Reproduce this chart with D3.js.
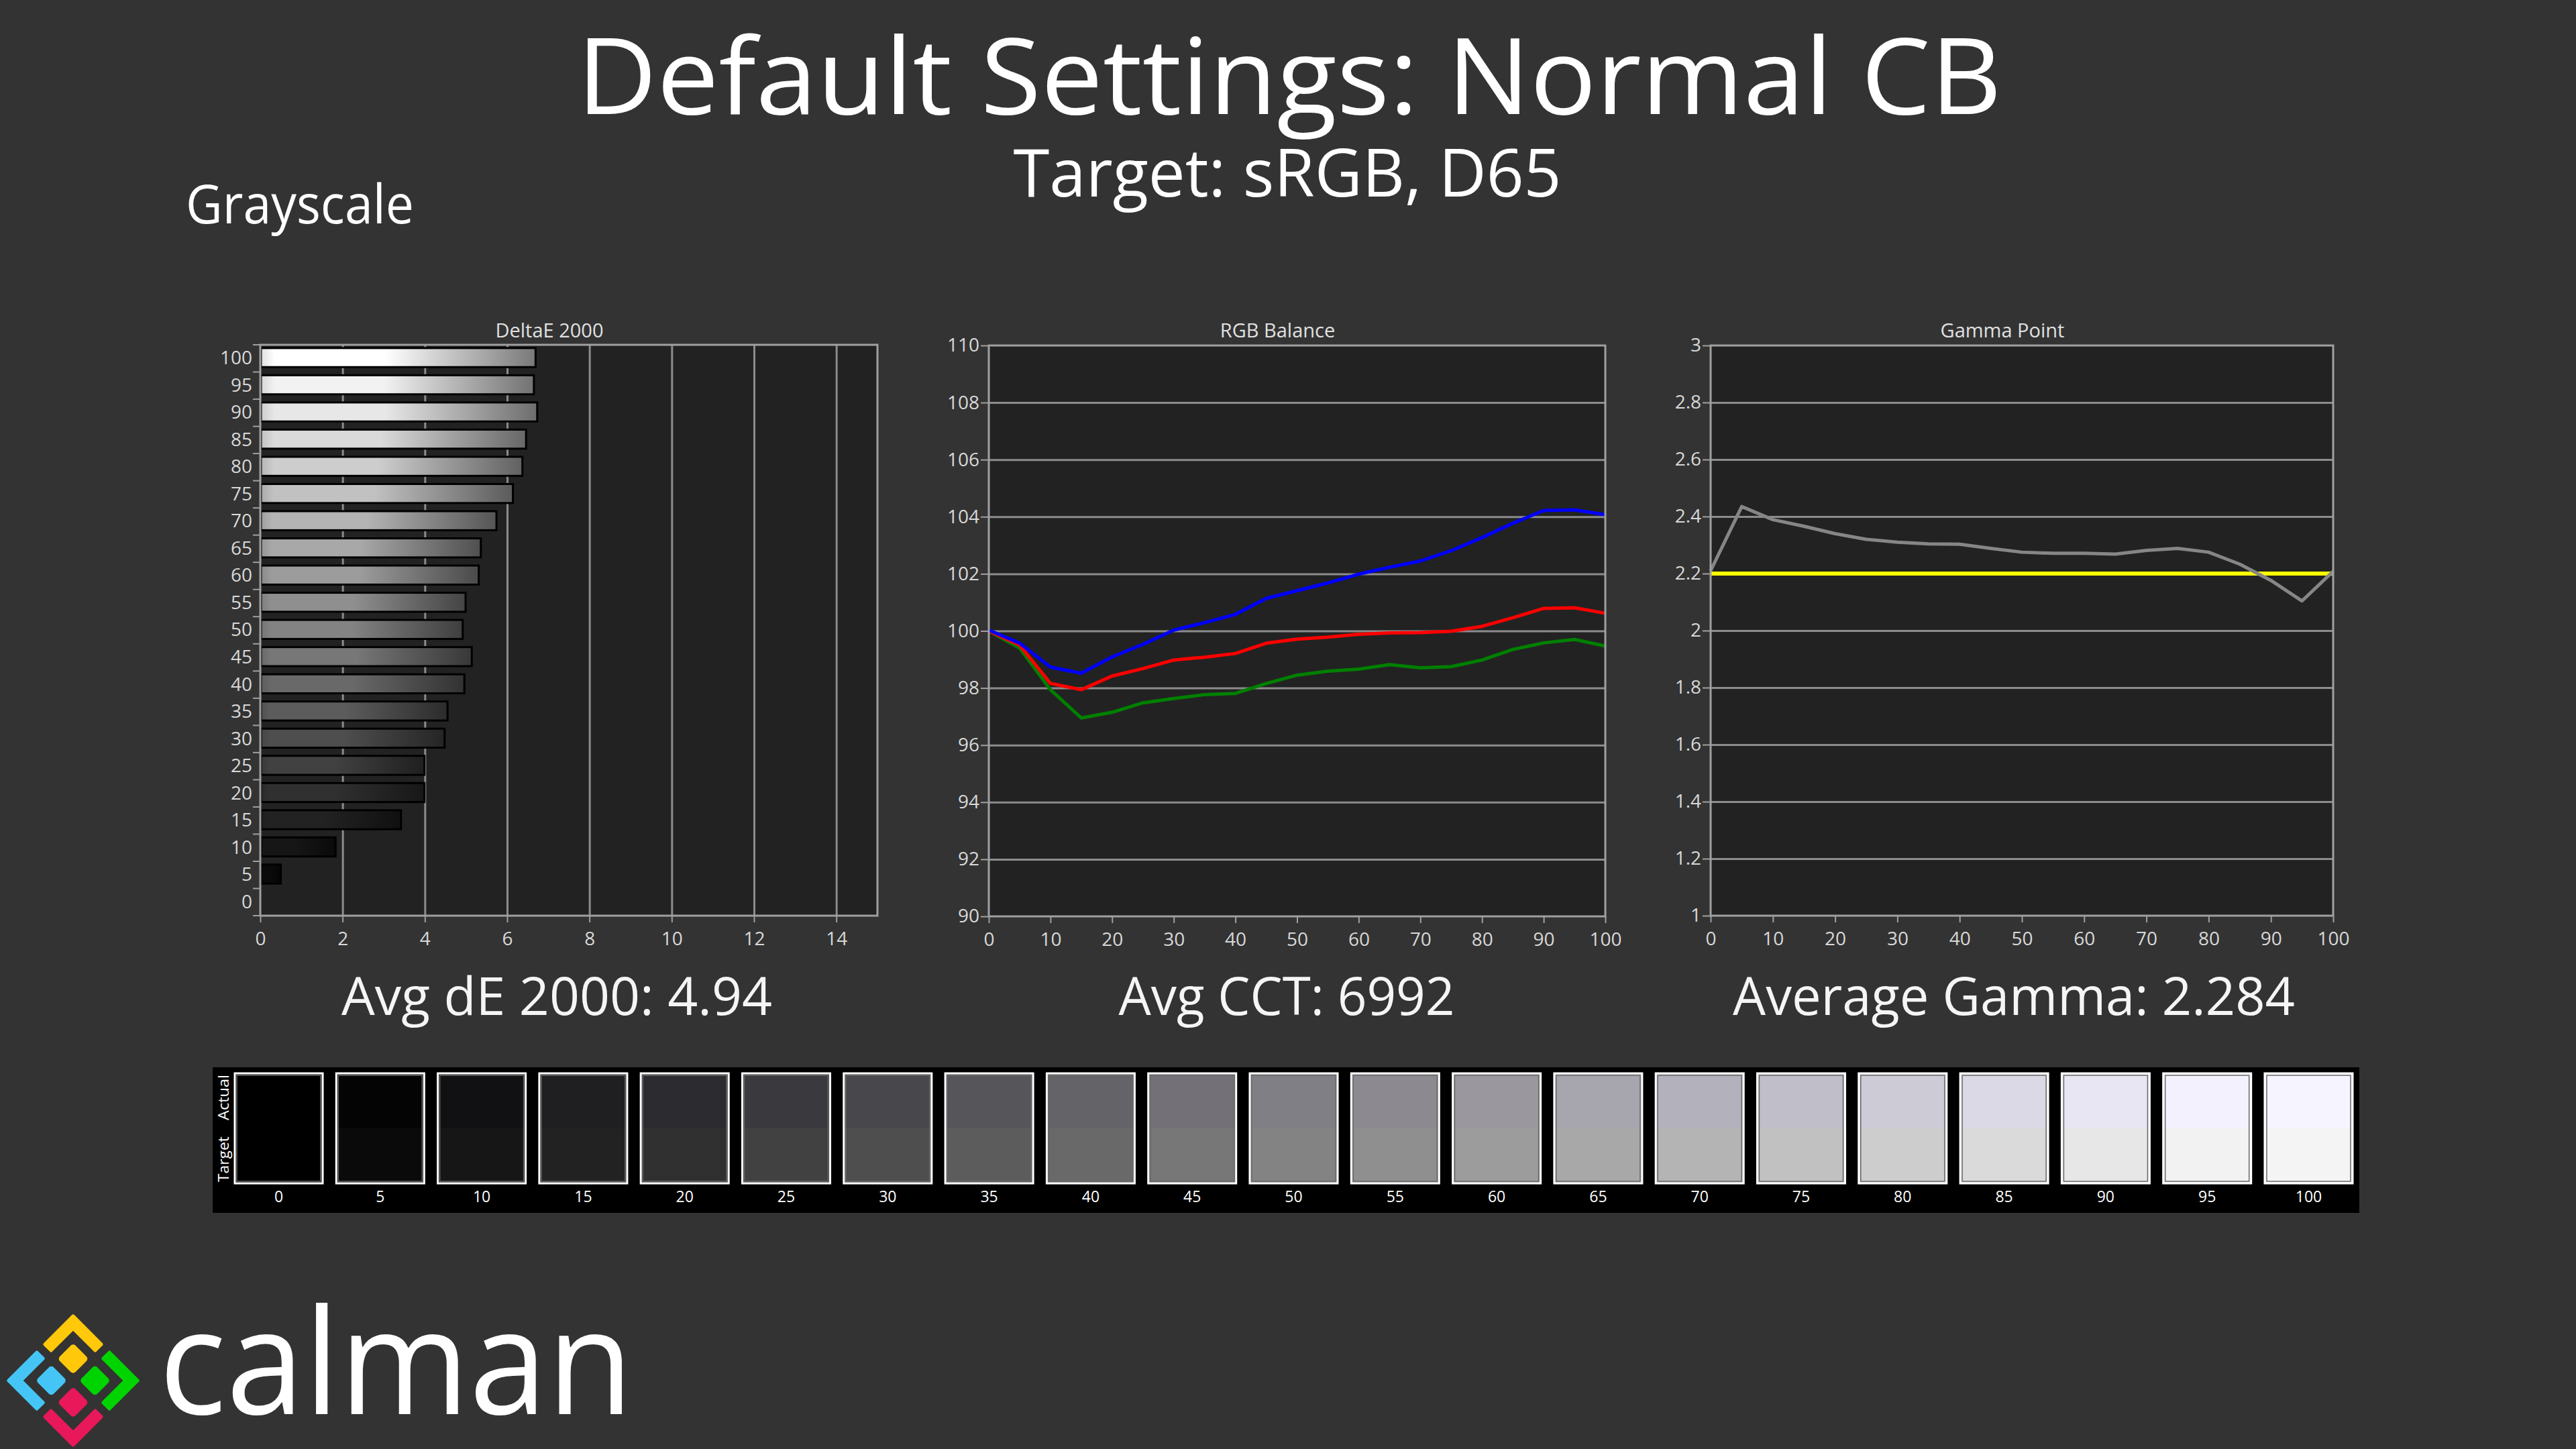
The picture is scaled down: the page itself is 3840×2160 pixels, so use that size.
<!DOCTYPE html>
<html>
<head>
<meta charset="utf-8">
<script src="https://cdn.jsdelivr.net/npm/d3@7"></script>
<style>
  html, body { margin: 0; padding: 0; background: #333333; }
  svg { display: block; }
  text { font-family: "Open Sans", "Noto Sans", sans-serif; }
</style>
</head>
<body>
<svg id="chart" width="3840" height="2160"></svg>
<script>
// grayscale steps, % stimulus
const levels = [0, 5, 10, 15, 20, 25, 30, 35, 40, 45, 50, 55, 60, 65, 70, 75, 80, 85, 90, 95, 100];

// dE 2000 per step
const deltaE = [0, 0.50, 1.83, 3.42, 3.99, 3.99, 4.48, 4.55, 4.96, 5.14, 4.92, 4.99, 5.31, 5.36, 5.74, 6.14, 6.37, 6.46, 6.73, 6.65, 6.69];

// RGB balance per step
const rgbRed   = [100.0, 99.50, 98.16, 97.94, 98.42, 98.68, 98.98, 99.08, 99.21, 99.57, 99.71, 99.78, 99.88, 99.93, 99.94, 99.99, 100.16, 100.46, 100.79, 100.81, 100.62];
const rgbGreen = [100.0, 99.40, 97.94, 96.95, 97.15, 97.48, 97.63, 97.77, 97.81, 98.16, 98.45, 98.59, 98.66, 98.82, 98.71, 98.75, 98.98, 99.35, 99.58, 99.70, 99.47];
const rgbBlue  = [100.03, 99.57, 98.73, 98.52, 99.09, 99.53, 100.03, 100.29, 100.58, 101.14, 101.41, 101.68, 101.99, 102.23, 102.45, 102.81, 103.27, 103.77, 104.22, 104.24, 104.07];

// gamma per step
const gammaPoints = [2.21, 2.435, 2.389, 2.366, 2.340, 2.320, 2.310, 2.304, 2.303, 2.288, 2.275, 2.271, 2.271, 2.268, 2.281, 2.288, 2.275, 2.233, 2.176, 2.104, 2.208];
const gammaTarget = 2.2;

// swatches (actual measured vs target)
const swatchActual = ["#000000", "#040404", "#111113", "#1f1e21", "#2c2b2f", "#3a393d", "#48474c", "#56555a", "#646368", "#737177", "#817f86",
                      "#8c8a90", "#9a989e", "#a7a5ad", "#b3b1bb", "#c0bec9", "#cdcbd6", "#dbd9e5", "#e8e6f2", "#f3f1fd", "#f6f4ff"];
const swatchTarget = ["#000000", "#0a0a0a", "#161616", "#222222", "#303030", "#414141", "#4e4e4e", "#5c5c5c", "#696969", "#777777", "#838383",
                      "#8f8f8f", "#9c9c9c", "#a8a8a8", "#b4b4b4", "#c1c1c1", "#cdcdcd", "#dadada", "#e7e7e7", "#f2f2f2", "#f4f4f4"];

// tick labels
const deltaETicks = [0, 2, 4, 6, 8, 10, 12, 14];
const stepTicks = [0, 10, 20, 30, 40, 50, 60, 70, 80, 90, 100];
const rgbTicks = [90, 92, 94, 96, 98, 100, 102, 104, 106, 108, 110];
const gammaTicks = [1, 1.2, 1.4, 1.6, 1.8, 2, 2.2, 2.4, 2.6, 2.8, 3];

const summary = ["Avg dE 2000: 4.94", "Avg CCT: 6992", "Average Gamma: 2.284"];

const svg = d3.select("#chart");
const defs = svg.append("defs");
svg.append("rect").attr("width", 3840).attr("height", 2160).attr("fill", "#333333");

function fit(sel, w) {
  return sel.attr("textLength", w).attr("lengthAdjust", "spacingAndGlyphs");
}

// headings
fit(svg.append("text").attr("x", 1922).attr("y", 170).attr("text-anchor", "middle")
  .attr("font-size", 158).attr("fill", "#ffffff").text("Default Settings: Normal CB"), 2124);
fit(svg.append("text").attr("x", 1919).attr("y", 293).attr("text-anchor", "middle")
  .attr("font-size", 98).attr("fill", "#ffffff").text("Target: sRGB, D65"), 817);
fit(svg.append("text").attr("x", 277).attr("y", 333)
  .attr("font-size", 80).attr("fill", "#ffffff").text("Grayscale"), 340);

function styleAxis(g) {
  g.select(".domain").remove();
  g.selectAll(".tick line").attr("stroke", "#a0a0a0").attr("stroke-width", 2);
  g.selectAll(".tick text").attr("fill", "#d8d8d8").attr("font-size", 28)
    .attr("font-family", "'Open Sans', sans-serif");
}

function frame(box, title) {
  svg.append("rect").attr("x", box.l).attr("y", box.t)
    .attr("width", box.r - box.l).attr("height", box.b - box.t).attr("fill", "#222222");
  svg.append("text").attr("x", (box.l - 58 + box.r) / 2).attr("y", 503)
    .attr("text-anchor", "middle").attr("font-size", 29).attr("fill", "#e0e0e0").text(title);
}

function border(box) {
  svg.append("rect").attr("x", box.l).attr("y", box.t)
    .attr("width", box.r - box.l).attr("height", box.b - box.t)
    .attr("fill", "none").attr("stroke", "#a0a0a0").attr("stroke-width", 3);
}

// ---------- DeltaE 2000 bars ----------
const dBox = {l: 388, r: 1308, t: 514, b: 1365};
frame(dBox, "DeltaE 2000");
const xD = d3.scaleLinear().domain([0, 15]).range([dBox.l, dBox.r]);
const yD = d3.scaleBand().domain(levels.slice().reverse()).range([dBox.t, dBox.b]);
const bw = yD.bandwidth();

svg.append("g").attr("transform", `translate(0,${dBox.b})`)
  .call(d3.axisBottom(xD).tickValues(deltaETicks.slice(1)).tickSize(-(dBox.b - dBox.t)).tickFormat(""))
  .call(g => { g.select(".domain").remove(); g.selectAll("line").attr("stroke", "#8c8c8c").attr("stroke-width", 3); });

levels.forEach((lv, i) => {
  const base = d3.color(lv === 100 ? "#ffffff" : swatchTarget[i]);
  const grad = defs.append("linearGradient").attr("id", "bar" + lv);
  [[0, base.darker(0.35)], [0.05, base], [0.45, base], [1, base.darker(2.1)]].forEach(s => {
    grad.append("stop").attr("offset", s[0]).attr("stop-color", s[1].formatHex());
  });
});

svg.append("g").selectAll("rect").data(levels.filter((lv, i) => deltaE[i] > 0))
  .join("rect")
  .attr("x", xD(0) + 1)
  .attr("y", d => yD(d) + bw * 0.12)
  .attr("width", d => xD(deltaE[levels.indexOf(d)]) - xD(0) - 1)
  .attr("height", bw * 0.7)
  .attr("fill", d => `url(#bar${d})`)
  .attr("stroke", "#000000").attr("stroke-width", 3);

// band boundary ticks + labels on the left
svg.append("g").selectAll("line").data(levels.concat(["top"]))
  .join("line")
  .attr("x1", dBox.l - 11).attr("x2", dBox.l)
  .attr("y1", d => d === "top" ? dBox.t : yD(d) + bw)
  .attr("y2", d => d === "top" ? dBox.t : yD(d) + bw)
  .attr("stroke", "#a0a0a0").attr("stroke-width", 2);
svg.append("g").attr("transform", `translate(${dBox.l - 12},0)`)
  .call(d3.axisLeft(yD).tickSize(0).tickPadding(0))
  .call(styleAxis);

svg.append("g").attr("transform", `translate(0,${dBox.b})`)
  .call(d3.axisBottom(xD).tickValues(deltaETicks).tickSize(10).tickPadding(14))
  .call(styleAxis);
border(dBox);

// ---------- line charts ----------
function lineChart(box, yDomain, yTicks, fmt, title) {
  frame(box, title);
  const x = d3.scaleLinear().domain([0, 100]).range([box.l, box.r]);
  const y = d3.scaleLinear().domain(yDomain).range([box.b, box.t]);
  svg.append("g").attr("transform", `translate(${box.l},0)`)
    .call(d3.axisLeft(y).tickValues(yTicks.slice(1, -1)).tickSize(-(box.r - box.l)).tickFormat(""))
    .call(g => { g.select(".domain").remove(); g.selectAll("line").attr("stroke", "#8c8c8c").attr("stroke-width", 3); });
  svg.append("g").attr("transform", `translate(${box.l},0)`)
    .call(d3.axisLeft(y).tickValues(yTicks).tickSize(12).tickPadding(2).tickFormat(fmt))
    .call(styleAxis);
  svg.append("g").attr("transform", `translate(0,${box.b})`)
    .call(d3.axisBottom(x).tickValues(stepTicks).tickSize(10).tickPadding(14))
    .call(styleAxis);
  return {x, y};
}

function drawLine(sc, values, color, width) {
  const line = d3.line().x((d, i) => sc.x(levels[i])).y(d => sc.y(d));
  svg.append("path").datum(values).attr("d", line)
    .attr("fill", "none").attr("stroke", color).attr("stroke-width", width)
    .attr("stroke-linejoin", "round");
}

const rBox = {l: 1474, r: 2393, t: 515, b: 1366};
const rgb = lineChart(rBox, [90, 110], rgbTicks, d => d, "RGB Balance");
drawLine(rgb, rgbGreen, "#008000", 5);
drawLine(rgb, rgbRed, "#ff0000", 5);
drawLine(rgb, rgbBlue, "#0000ff", 5);
border(rBox);

const gBox = {l: 2550, r: 3478, t: 515, b: 1365};
const gam = lineChart(gBox, [1, 3], gammaTicks, d => +d.toFixed(1), "Gamma Point");
drawLine(gam, levels.map(() => gammaTarget), "#ffff00", 6);
drawLine(gam, gammaPoints, "#868686", 5);
border(gBox);

// summary values
const sumPos = [[830, 642], [1918, 501], [3002, 838]];
summary.forEach((s, i) => {
  fit(svg.append("text").attr("x", sumPos[i][0]).attr("y", 1513).attr("text-anchor", "middle")
    .attr("font-size", 79).attr("fill", "#f5f5f5").text(s), sumPos[i][1]);
});

// ---------- swatch strip ----------
svg.append("rect").attr("x", 317).attr("y", 1591).attr("width", 3200).attr("height", 217).attr("fill", "#000000");
const sx = d3.scaleBand().domain(levels).range([350, 3507]).paddingInner(0.134).paddingOuter(0);
const sw = svg.append("g").selectAll("g").data(levels).join("g")
  .attr("transform", d => `translate(${sx(d)},0)`);
sw.append("rect").attr("y", 1600).attr("width", sx.bandwidth()).attr("height", 82)
  .attr("fill", (d, i) => swatchActual[i]);
sw.append("rect").attr("y", 1682).attr("width", sx.bandwidth()).attr("height", 82)
  .attr("fill", (d, i) => swatchTarget[i]);
sw.append("rect").attr("x", 3).attr("y", 1603).attr("width", sx.bandwidth() - 6).attr("height", 158)
  .attr("fill", "none").attr("stroke", "#6a6a6a").attr("stroke-width", 1.5);
sw.append("rect").attr("y", 1600).attr("width", sx.bandwidth()).attr("height", 164)
  .attr("fill", "none").attr("stroke", "#ffffff").attr("stroke-width", 3);
sw.append("text").attr("x", sx.bandwidth() / 2).attr("y", 1792).attr("text-anchor", "middle")
  .attr("font-size", 23).attr("fill", "#ffffff").text(d => d);

[["Actual", 1636], ["Target", 1728]].forEach(([t, cy]) => {
  fit(svg.append("text").attr("transform", `translate(333,${cy}) rotate(-90)`)
    .attr("text-anchor", "middle").attr("dominant-baseline", "central")
    .attr("font-size", 21).attr("fill", "#ffffff").text(t), 68);
});

// ---------- calman logo ----------
const logo = svg.append("g").attr("transform", "translate(109,2058) rotate(45)");
const O = 68, I = 55, gp = 8.5;
const chevron = [[-O, -O], [-gp, -O], [-gp, -I], [-I, -I], [-I, -gp], [-O, -gp]];
[[1, 1, "#ffc80a"], [-1, -1, "#e8185a"], [-1, 1, "#00d400"], [1, -1, "#45c5f5"]].forEach(([a, b, c]) => {
  logo.append("path")
    .attr("d", "M" + chevron.map(p => [p[0] * a, p[1] * b].join(",")).join("L") + "Z")
    .attr("fill", c).attr("stroke", c).attr("stroke-width", 5).attr("stroke-linejoin", "round");
});
[[-1, -1, "#ffc80a"], [1, 1, "#e8185a"], [1, -1, "#00d400"], [-1, 1, "#45c5f5"]].forEach(([a, b, c]) => {
  logo.append("rect").attr("x", a > 0 ? 6.5 : -39.5).attr("y", b > 0 ? 6.5 : -39.5)
    .attr("width", 33).attr("height", 33).attr("rx", 5).attr("fill", c);
});
fit(svg.append("text").attr("x", 237).attr("y", 2108)
  .attr("font-family", "Lato, 'Open Sans', sans-serif")
  .attr("font-size", 218).attr("fill", "#ffffff").text("calman"), 707);
</script>
</body>
</html>
